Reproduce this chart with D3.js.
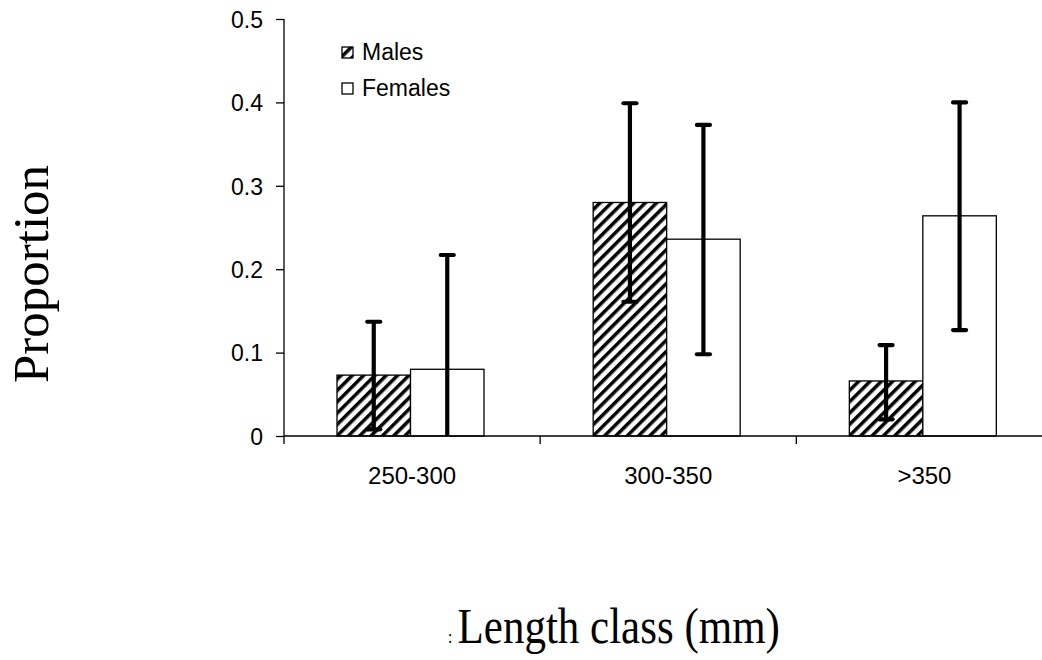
<!DOCTYPE html>
<html><head><meta charset="utf-8">
<script src="https://cdn.jsdelivr.net/npm/d3@7"></script>
<style>body{margin:0;background:#fff}svg{display:block}</style>
</head><body>
<script>
const categories = ["250-300", "300-350", ">350"];
const series = ["Males", "Females"];
const males = [0.073, 0.280, 0.066];
const females = [0.080, 0.236, 0.264];
const malesLow = [0.008, 0.161, 0.020];
const malesHigh = [0.137, 0.399, 0.109];
const femalesLow = [0.000, 0.098, 0.127];
const femalesHigh = [0.217, 0.373, 0.400];
const yTicks = [0, 0.1, 0.2, 0.3, 0.4, 0.5];

const W = 1042, H = 660;
const SANS = "Liberation Sans, Arial, sans-serif";
const SERIF = "Liberation Serif, Times New Roman, serif";
const svg = d3.select("body").append("svg").attr("width", W).attr("height", H);
const defs = svg.append("defs");
const pat = defs.append("pattern").attr("id", "hatch").attr("patternUnits", "userSpaceOnUse")
  .attr("width", 8).attr("height", 8).attr("patternTransform", "rotate(45)");
pat.append("rect").attr("width", 8).attr("height", 8).attr("fill", "#fff");
pat.append("rect").attr("x", 0).attr("width", 3.5).attr("height", 8).attr("fill", "#000");

const x0 = d3.scaleBand().domain(categories).range([284, 1052.5]).paddingInner(0).paddingOuter(0);
const y = d3.scaleLinear().domain([0, 0.5]).range([436, 19]);
const bw = x0.bandwidth();
const x1 = d3.scaleBand().domain(series).range([53, 53 + 147]);

const data = categories.map((c, i) => ({
  c,
  vals: [
    {s: "Males", v: males[i], lo: malesLow[i], hi: malesHigh[i]},
    {s: "Females", v: females[i], lo: femalesLow[i], hi: femalesHigh[i]}
  ]
}));

const g = svg.append("g");
const groups = g.selectAll("g.grp").data(data).join("g")
  .attr("transform", d => `translate(${x0(d.c)},0)`);
groups.selectAll("rect").data(d => d.vals).join("rect")
  .attr("x", d => x1(d.s)).attr("width", x1.bandwidth())
  .attr("y", d => y(d.v)).attr("height", d => y(0) - y(d.v))
  .attr("fill", d => d.s === "Males" ? "url(#hatch)" : "#fff")
  .attr("stroke", "#000").attr("stroke-width", 1.3);

// error bars
const cx = d => x1(d.s) + x1.bandwidth() / 2;
const eb = groups.selectAll("g.eb").data(d => d.vals).join("g");
eb.append("line")
  .attr("x1", cx).attr("x2", cx)
  .attr("y1", d => y(d.lo)).attr("y2", d => y(d.hi))
  .attr("stroke", "#000").attr("stroke-width", 4.2);
eb.filter(d => d.lo > 0).append("line")
  .attr("x1", d => cx(d) - 6.5).attr("x2", d => cx(d) + 6.5)
  .attr("y1", d => y(d.lo)).attr("y2", d => y(d.lo))
  .attr("stroke", "#000").attr("stroke-width", 4.2).attr("stroke-linecap", "round");
eb.append("line")
  .attr("x1", d => cx(d) - 6.5).attr("x2", d => cx(d) + 6.5)
  .attr("y1", d => y(d.hi)).attr("y2", d => y(d.hi))
  .attr("stroke", "#000").attr("stroke-width", 4.2).attr("stroke-linecap", "round");

// y axis
const yAxis = d3.axisLeft(y).tickValues(yTicks).tickFormat(d => d === 0 ? "0" : d3.format(".1f")(d)).tickSize(8).tickPadding(13);
const ya = svg.append("g").attr("transform", "translate(284,0)").call(yAxis);
ya.attr("font-size", null).attr("font-family", null);
ya.select(".domain").attr("stroke", "#000").attr("stroke-width", 1.3).attr("d", "M0,19V436");
ya.selectAll(".tick line").attr("stroke", "#000").attr("stroke-width", 1.3);
ya.selectAll(".tick text").attr("dy", "0.36em")
  .attr("font-family", SANS).attr("font-size", 23).attr("fill", "#000");

// x axis
const xa = svg.append("g").attr("transform", "translate(0,436)");
xa.append("line").attr("x1", 284).attr("x2", 1042).attr("stroke", "#000").attr("stroke-width", 1.3);
xa.selectAll("line.tk").data(categories).join("line").attr("class", "tk")
  .attr("x1", d => x0(d)).attr("x2", d => x0(d)).attr("y1", 0).attr("y2", 8)
  .attr("stroke", "#000").attr("stroke-width", 1.3);
xa.selectAll("text").data(categories).join("text")
  .attr("x", d => x0(d) + bw / 2).attr("y", 48)
  .attr("text-anchor", "middle").attr("font-family", SANS)
  .attr("font-size", 24).text(d => d);

// legend
const lg = svg.append("g");
series.forEach((s, i) => {
  const yy = 47 + i * 36;
  lg.append("rect").attr("x", 342).attr("y", yy).attr("width", 11).attr("height", 11)
    .attr("fill", s === "Males" ? "url(#hatch)" : "#fff").attr("stroke", "#000").attr("stroke-width", 1.3);
  lg.append("text").attr("x", 362).attr("y", yy + 13).attr("font-family", SANS)
    .attr("font-size", 23).text(s);
});

// axis titles
svg.append("text").attr("transform", "translate(48,274) rotate(-90)").attr("text-anchor", "middle")
  .attr("font-family", SERIF).attr("font-size", 51).text("Proportion");
const xt = svg.append("text").attr("transform", "translate(614,643) scale(0.86,1)").attr("text-anchor", "middle")
  .attr("font-family", SERIF).attr("font-size", 50);
xt.append("tspan").attr("font-size", 18).text(":");
xt.append("tspan").attr("dx", 6).text("Length class (mm)");
</script>
</body></html>
